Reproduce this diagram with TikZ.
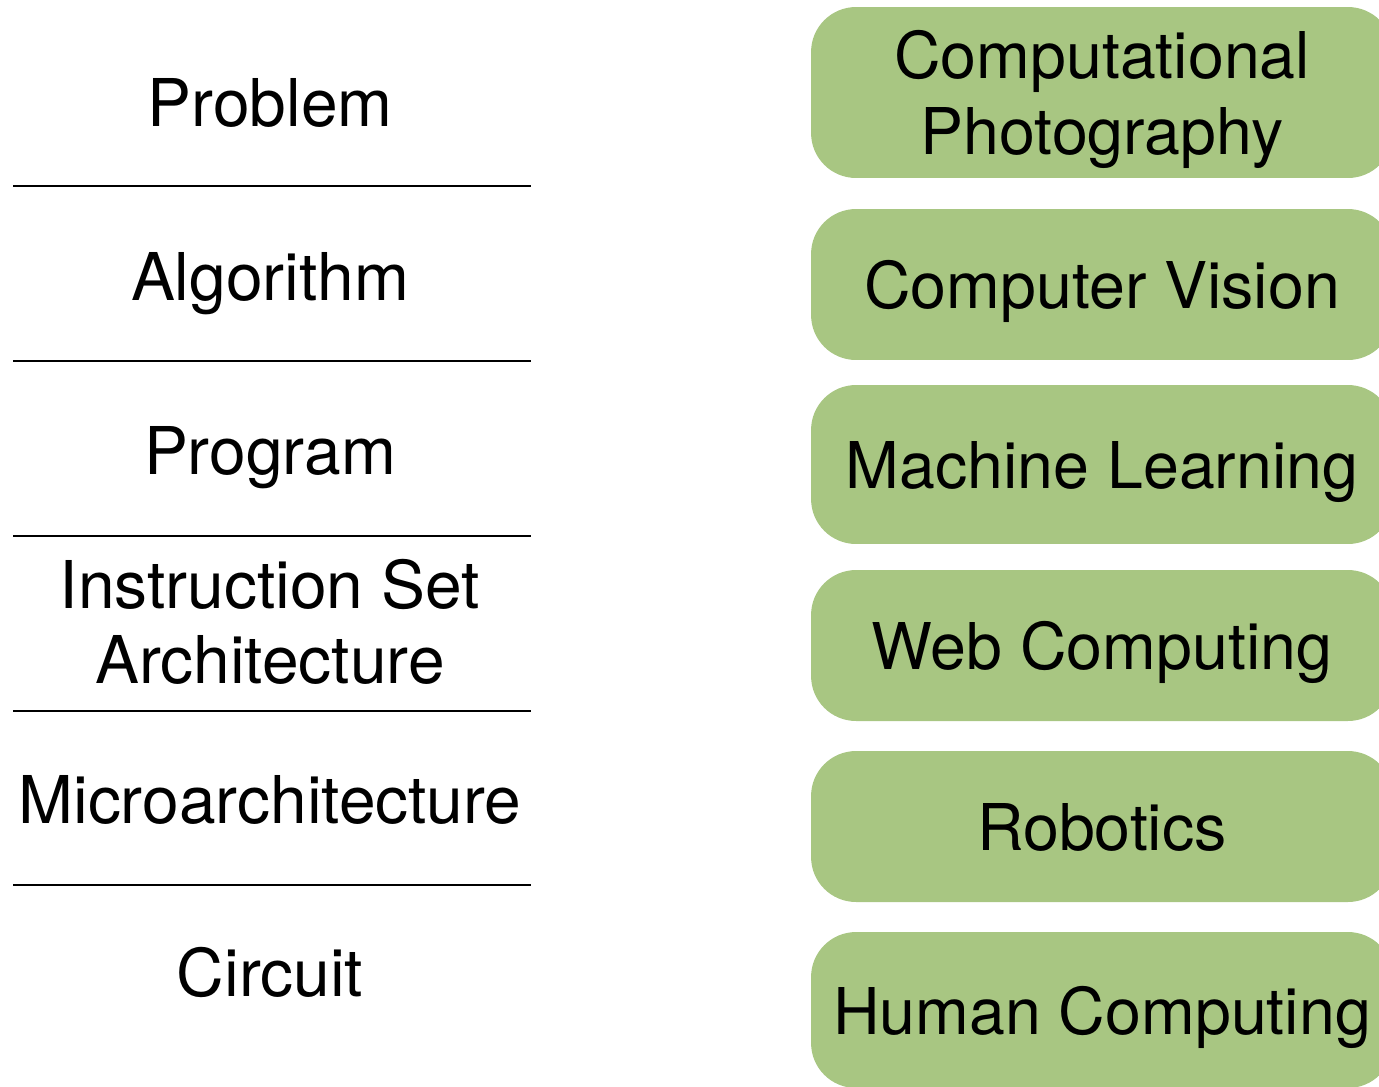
\documentclass[tikz,border=0pt]{standalone}
\usepackage{fontspec}
\setmainfont{TeX Gyre Heros}
\usetikzlibrary{positioning}
\definecolor{areagreen}{HTML}{A8C682}

\begin{document}
\begin{tikzpicture}[
    x=0.02cm, y=-0.02cm,
    layer/.style={font=\fontsize{37.5}{43}\selectfont, align=center, inner sep=0pt},
    area/.style={fill=areagreen, rounded corners=0.9cm, minimum width=11.64cm, align=center,
                 inner sep=0pt, text depth=0pt, font=\fontsize{36.7}{43}\selectfont},
    sepline/.style={line width=0.05cm, black},
]
\useasboundingbox (0,0) rectangle (1379,1086);
\clip (0,0) rectangle (1379,1086);

% ===== Abstraction layers (left) =====
\node[layer, anchor=base] (prob) at (270,126) {Problem};
\node[layer, anchor=base] (algo) at (270,300) {Algorithm};
\node[layer, anchor=base] (prog) at (270,474) {Program};
\node[layer] (isa) at (270,622) {Instruction Set\\Architecture};
\node[layer, anchor=base] (march) at (270,823) {Microarchitecture};
\node[layer, anchor=base] (circ) at (270,996) {Circuit};

% separators
\foreach \yy in {186,361,536,711,885}
    \draw[sepline] (13,\yy) -- (531,\yy);

% ===== Application areas (right) =====
\node[area, minimum height=3.42cm] (cphoto) at (1102,92.5) {Computational\\Photography};
\node[area, minimum height=3.02cm] (cvision) at (1102,284.5) {Computer Vision};
\node[area, minimum height=3.18cm] (mlearn) at (1102,464.5) {Machine Learning};
\node[area, minimum height=3.02cm] (webc) at (1102,645.5) {Web Computing};
\node[area, minimum height=3.02cm] (robot) at (1102,826.5) {Robotics};
\node[area, minimum height=3.12cm] (humanc) at (1102,1010) {Human Computing};

\end{tikzpicture}
\end{document}
